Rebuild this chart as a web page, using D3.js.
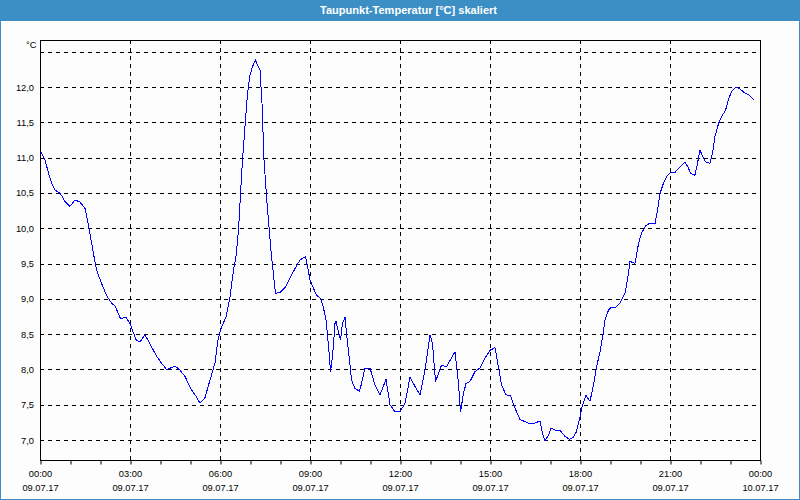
<!DOCTYPE html>
<html>
<head>
<meta charset="utf-8">
<script src="https://cdn.jsdelivr.net/npm/d3@7"></script>
<style>
  html, body { margin: 0; padding: 0; background: #fcfdfc; }
  svg { display: block; }
</style>
</head>
<body>
<svg id="chart" width="800" height="500"></svg>
<script>
// ---- data ----
const chartTitle = "Taupunkt-Temperatur [°C] skaliert";
const unitLabel = "°C";
// time of day in minutes since 09.07.17 00:00
const minutes = [0,10,17,23,30,40,50,60,70,80,90,97,107,113,123,133,143,150,161,172,180,192,200,210,220,233,243,253,261,270,280,290,303,313,320,330,340,350,356,363,372,380,387,392,397,401,405,410,415,420,425,431,435,440,444,448,453,458,463,471,480,490,500,510,520,531,535,540,547,553,561,567,572,577,581,585,590,592,597,601,605,610,613,619,623,630,639,643,650,660,670,680,692,700,710,720,730,740,750,760,770,780,785,791,797,803,813,823,830,837,841,847,852,860,870,880,890,900,910,917,923,932,941,950,960,970,980,990,1000,1005,1010,1017,1022,1030,1040,1050,1059,1067,1073,1080,1084,1092,1100,1107,1113,1120,1126,1130,1137,1141,1150,1160,1170,1175,1180,1190,1197,1203,1212,1220,1230,1235,1240,1247,1255,1261,1270,1280,1290,1297,1301,1310,1315,1320,1325,1331,1340,1345,1350,1357,1363,1371,1377,1383,1392,1400,1409,1417,1428];
const dewPoint = [11.10,10.97,10.78,10.64,10.54,10.50,10.38,10.31,10.40,10.37,10.28,10.04,9.64,9.41,9.22,9.05,8.94,8.90,8.72,8.74,8.65,8.42,8.39,8.49,8.36,8.19,8.09,8.00,8.02,8.05,7.99,7.90,7.71,7.61,7.52,7.60,7.85,8.09,8.42,8.60,8.74,9.03,9.41,9.60,9.97,10.49,10.97,11.44,11.91,12.17,12.29,12.38,12.31,12.24,11.77,10.97,10.45,10.02,9.60,9.08,9.09,9.16,9.29,9.43,9.55,9.60,9.46,9.27,9.15,9.05,9.01,8.87,8.70,8.34,7.97,8.18,8.65,8.68,8.53,8.42,8.65,8.74,8.51,8.13,7.85,7.73,7.69,7.80,8.02,8.02,7.78,7.64,7.86,7.50,7.40,7.40,7.52,7.89,7.76,7.64,7.99,8.49,8.37,7.83,7.94,8.06,8.04,8.16,8.25,7.80,7.40,7.66,7.80,7.83,7.97,8.02,8.16,8.27,8.31,8.03,7.78,7.64,7.63,7.45,7.29,7.26,7.23,7.24,7.27,7.09,6.99,7.07,7.17,7.14,7.14,7.05,7.01,7.04,7.12,7.33,7.47,7.63,7.55,7.78,8.03,8.25,8.50,8.70,8.84,8.87,8.87,8.94,9.08,9.27,9.53,9.50,9.78,9.93,10.04,10.07,10.06,10.26,10.49,10.64,10.75,10.79,10.79,10.87,10.94,10.85,10.78,10.75,10.92,11.11,11.02,10.94,10.92,11.06,11.30,11.48,11.58,11.67,11.82,11.94,12.00,11.97,11.92,11.89,11.82];
const yTicks = [7.0, 7.5, 8.0, 8.5, 9.0, 9.5, 10.0, 10.5, 11.0, 11.5, 12.0];
const yGrid = [7.0, 7.5, 8.0, 8.5, 9.0, 9.5, 10.0, 10.5, 11.0, 11.5, 12.0, 12.5];
const xMajor = [0, 180, 360, 540, 720, 900, 1080, 1260, 1440];
const timeLabels = ["00:00","03:00","06:00","09:00","12:00","15:00","18:00","21:00","00:00"];
const dateLabels = ["09.07.17","09.07.17","09.07.17","09.07.17","09.07.17","09.07.17","09.07.17","09.07.17","10.07.17"];
const xMinor = d3.range(0, 1441, 60);

// ---- layout ----
const W = 800, H = 500;
const L = 40, R = 760, T = 40, B = 460;
const FONT = "'Liberation Sans', Arial, sans-serif";

const svg = d3.select("#chart");
svg.append("rect").attr("x", 0).attr("y", 0).attr("width", W).attr("height", H).attr("fill", "#fcfdfc");

// title bar
svg.append("rect").attr("x", 0).attr("y", 0).attr("width", W).attr("height", 21).attr("fill", "#3c8fc5");
svg.append("text").attr("x", 408.5).attr("y", 14)
  .attr("text-anchor", "middle").attr("fill", "#ffffff")
  .attr("font-family", FONT).attr("font-size", "11px").attr("font-weight", "bold")
  .attr("textLength", 177).attr("lengthAdjust", "spacingAndGlyphs")
  .text(chartTitle);

// outer blue border
svg.append("rect").attr("x", 0.5).attr("y", 0.5).attr("width", W - 1).attr("height", H - 1)
  .attr("fill", "none").attr("stroke", "#3c8fc5").attr("stroke-width", 1);

const x = d3.scaleLinear().domain([0, 1440]).range([L, R]);
const y = d3.scaleLinear().domain([6.717, 12.666]).range([B, T]);

const g = svg.append("g");

// grid
g.append("g").selectAll("line").data(yGrid).join("line")
  .attr("x1", L).attr("x2", R)
  .attr("y1", d => Math.round(y(d)) + 0.5).attr("y2", d => Math.round(y(d)) + 0.5)
  .attr("stroke", "#000").attr("stroke-width", 1).attr("stroke-dasharray", "4,4");
g.append("g").selectAll("line").data(xMajor.slice(1, -1)).join("line")
  .attr("x1", d => Math.round(x(d)) + 0.5).attr("x2", d => Math.round(x(d)) + 0.5)
  .attr("y1", T).attr("y2", B)
  .attr("stroke", "#000").attr("stroke-width", 1).attr("stroke-dasharray", "4,4");

// data line
const line = d3.line().x((d, i) => x(minutes[i])).y(d => y(d));
g.append("path").datum(dewPoint)
  .attr("d", line).attr("fill", "none").attr("stroke", "#0000ff").attr("stroke-width", 1)
  .attr("shape-rendering", "crispEdges");

// frame
g.append("rect").attr("x", L + 0.5).attr("y", T + 0.5).attr("width", R - L).attr("height", B - T)
  .attr("fill", "none").attr("stroke", "#000").attr("stroke-width", 1);

// bottom axis ticks (hourly)
const xAxis = d3.axisBottom(x).tickValues(xMinor).tickSize(4).tickSizeOuter(0).tickFormat("");
const ax = g.append("g").attr("transform", `translate(0.5,${B + 0.5})`).call(xAxis);
ax.select(".domain").remove();
ax.selectAll("line").attr("stroke", "#000");

// x labels
const xl = g.append("g").attr("font-family", FONT).attr("font-size", "9.3px").attr("fill", "#000").attr("text-anchor", "middle");
xl.selectAll("text.t").data(xMajor).join("text").attr("class", "t")
  .attr("x", d => x(d) + 0.5).attr("y", 476.5).text((d, i) => timeLabels[i]);
xl.selectAll("text.d").data(xMajor).join("text").attr("class", "d")
  .attr("x", d => x(d) + 0.5).attr("y", 490.5).text((d, i) => dateLabels[i]);

// y labels
const yAxis = d3.axisLeft(y).tickValues(yTicks).tickSize(0).tickPadding(6)
  .tickFormat(d => d3.format(".1f")(d).replace(".", ","));
const ay = g.append("g").attr("transform", `translate(${L},0)`).call(yAxis);
ay.select(".domain").remove();
ay.selectAll("text").attr("font-family", FONT).attr("font-size", "9.3px").attr("fill", "#000");

svg.append("text").attr("x", 36.5).attr("y", 47.5).attr("text-anchor", "end")
  .attr("font-family", FONT).attr("font-size", "9.3px").attr("fill", "#000").text(unitLabel);
</script>
</body>
</html>
